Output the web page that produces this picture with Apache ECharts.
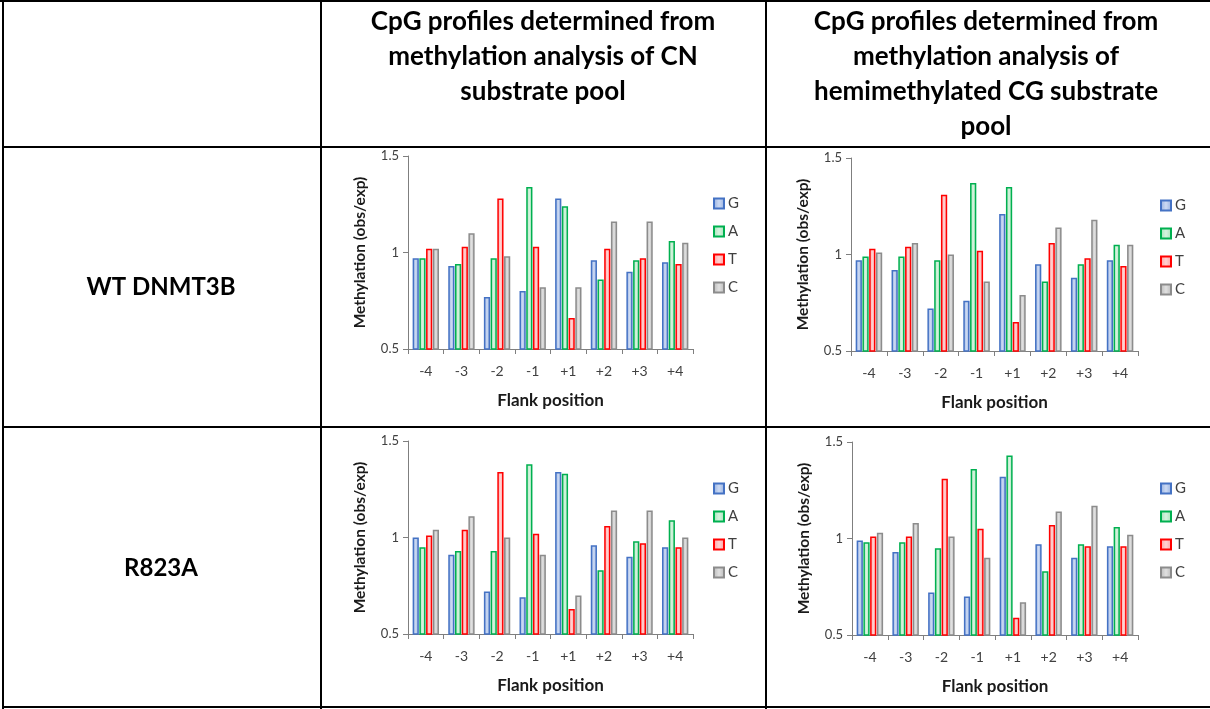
<!DOCTYPE html>
<html>
<head>
<meta charset="utf-8">
<script src="https://cdn.jsdelivr.net/npm/echarts@6/dist/echarts.min.js"></script>
<style>
html,body{margin:0;padding:0;background:#fff;}
#c{width:1210px;height:709px;}
</style>
</head>
<body>
<div id="c"></div>
<script>
// ---------- data ----------
const positions = ['-4','-3','-2','-1','+1','+2','+3','+4'];
const bases = ['G','A','T','C'];
const yTicks = [0.5, 1, 1.5];

const headerCN = ['CpG profiles determined from', 'methylation analysis of CN', 'substrate pool'];
const headerHemi = ['CpG profiles determined from', 'methylation analysis of', 'hemimethylated CG substrate', 'pool'];
const rowLabels = ['WT DNMT3B', 'R823A'];

// WT DNMT3B, CN substrate pool
const wtCnG = [0.97, 0.93, 0.77, 0.80, 1.28, 0.96, 0.90, 0.95];
const wtCnA = [0.97, 0.94, 0.97, 1.34, 1.24, 0.86, 0.96, 1.06];
const wtCnT = [1.02, 1.03, 1.28, 1.03, 0.66, 1.02, 0.97, 0.94];
const wtCnC = [1.02, 1.10, 0.98, 0.82, 0.82, 1.16, 1.16, 1.05];
// WT DNMT3B, hemimethylated CG substrate pool
const wtHmG = [0.97, 0.92, 0.72, 0.76, 1.21, 0.95, 0.88, 0.97];
const wtHmA = [0.99, 0.99, 0.97, 1.37, 1.35, 0.86, 0.95, 1.05];
const wtHmT = [1.03, 1.04, 1.31, 1.02, 0.65, 1.06, 0.98, 0.94];
const wtHmC = [1.01, 1.06, 1.00, 0.86, 0.79, 1.14, 1.18, 1.05];
// R823A, CN substrate pool
const muCnG = [1.00, 0.91, 0.72, 0.69, 1.34, 0.96, 0.90, 0.95];
const muCnA = [0.95, 0.93, 0.93, 1.38, 1.33, 0.83, 0.98, 1.09];
const muCnT = [1.01, 1.04, 1.34, 1.02, 0.63, 1.06, 0.97, 0.95];
const muCnC = [1.04, 1.11, 1.00, 0.91, 0.70, 1.14, 1.14, 1.00];
// R823A, hemimethylated CG substrate pool
const muHmG = [0.99, 0.93, 0.72, 0.70, 1.32, 0.97, 0.90, 0.96];
const muHmA = [0.98, 0.98, 0.95, 1.36, 1.43, 0.83, 0.97, 1.06];
const muHmT = [1.01, 1.01, 1.31, 1.05, 0.59, 1.07, 0.96, 0.96];
const muHmC = [1.03, 1.08, 1.01, 0.90, 0.67, 1.14, 1.17, 1.02];

const panels = [
  [wtCnG, wtCnA, wtCnT, wtCnC],
  [wtHmG, wtHmA, wtHmT, wtHmC],
  [muCnG, muCnA, muCnT, muCnC],
  [muHmG, muHmA, muHmT, muHmC]
];

// ---------- styles ----------
const FONT = 'Lato, "Open Sans", sans-serif';
const border = ['#4472C4', '#00B050', '#FF0000', '#8C8C8C'];
const fillEdge = ['#93ADDE', '#A3E2B6', '#FF9E9E', '#B8B8B8'];
const fillMid  = ['#CCDAF3', '#D6F3DF', '#FFD2D2', '#E0E0E0'];

const grids = [
  {left: 408, top: 156, width: 285, height: 193},
  {left: 851, top: 158, width: 287, height: 193},
  {left: 408, top: 441, width: 285, height: 193},
  {left: 852, top: 442, width: 286, height: 193}
];
const legendPos = [
  {left: 713, top: 196},
  {left: 1160, top: 198},
  {left: 713, top: 481},
  {left: 1160, top: 481}
];

const option = {
  animation: false,
  textStyle: {fontFamily: FONT},
  grid: grids,
  xAxis: grids.map((g, i) => ({
    type: 'category', gridIndex: i, data: positions,
    name: 'Flank position', nameLocation: 'middle', nameGap: 43,
    nameTextStyle: {fontFamily: FONT, fontWeight: 'bold', fontSize: 17, color: '#1a1a1a'},
    axisLine: {lineStyle: {color: '#7f7f7f', width: 1}},
    axisTick: {show: true, length: 5, lineStyle: {color: '#7f7f7f'}},
    axisLabel: {fontFamily: FONT, fontSize: 14, color: '#404040', margin: 15}
  })),
  yAxis: grids.map((g, i) => ({
    type: 'value', gridIndex: i, min: 0.5, max: 1.5, interval: 0.5,
    name: 'Methylation (obs/exp)', nameLocation: 'middle', nameGap: 40, nameRotate: 90,
    nameTextStyle: {fontFamily: FONT, fontWeight: 'bold', fontSize: 15.5, color: '#1a1a1a'},
    axisLine: {show: true, lineStyle: {color: '#7f7f7f', width: 1}},
    axisTick: {show: true, length: 5, lineStyle: {color: '#7f7f7f'}},
    splitLine: {show: false},
    axisLabel: {fontFamily: FONT, fontSize: 13, color: '#404040', margin: 9,
      formatter: v => (yTicks.indexOf(v) >= 0 ? String(v) : '')}
  })),
  legend: legendPos.map(p => ({
    data: bases, orient: 'vertical', left: p.left, top: p.top, padding: 0,
    itemWidth: 10, itemHeight: 10, itemGap: 13, icon: 'rect',
    textStyle: {fontFamily: FONT, fontSize: 15, color: '#404040', padding: [0, 0, 0, -1]},
    selectedMode: false
  })),
  series: []
};

panels.forEach((panel, gi) => {
  panel.forEach((vals, bi) => {
    option.series.push({
      type: 'bar', name: bases[bi], xAxisIndex: gi, yAxisIndex: gi,
      data: vals,
      barGap: '8%', barCategoryGap: '26%',
      itemStyle: {
        borderColor: border[bi], borderWidth: 1.5,
        color: {type: 'linear', x: 0, y: 0, x2: 1, y2: 0, colorStops: [
          {offset: 0, color: fillEdge[bi]}, {offset: 0.5, color: fillMid[bi]}, {offset: 1, color: fillEdge[bi]}
        ]}
      }
    });
  });
});

// ---------- table graphics ----------
const L = (x1, y1, x2, y2) => ({type: 'line', shape: {x1, y1, x2, y2}, style: {stroke: '#000', lineWidth: 2}, silent: true});
const gfx = [
  L(0, 1, 1210, 1), L(3, 147, 1210, 147), L(3, 427, 1210, 427), L(3, 707, 1210, 707),
  L(3, 0, 3, 709), L(321, 0, 321, 709), L(766, 0, 766, 709)
];
headerCN.forEach((t, i) => gfx.push({type: 'text', silent: true,
  x: 543, y: 22 + i * 35,
  style: {text: t, textAlign: 'center', textVerticalAlign: 'middle', fontFamily: FONT, fontWeight: 'bold', fontSize: 26, fill: '#000'}}));
headerHemi.forEach((t, i) => gfx.push({type: 'text', silent: true,
  x: 986, y: 22 + i * 35,
  style: {text: t, textAlign: 'center', textVerticalAlign: 'middle', fontFamily: FONT, fontWeight: 'bold', fontSize: 26, fill: '#000'}}));
rowLabels.forEach((t, i) => gfx.push({type: 'text', silent: true,
  x: 161, y: i === 0 ? 287 : 568,
  style: {text: t, textAlign: 'center', textVerticalAlign: 'middle', fontFamily: FONT, fontWeight: 'bold', fontSize: 24, fill: '#000'}}));
option.graphic = {elements: gfx};

const chart = echarts.init(document.getElementById('c'), null, {renderer: 'canvas'});
chart.setOption(option);
</script>
</body>
</html>
